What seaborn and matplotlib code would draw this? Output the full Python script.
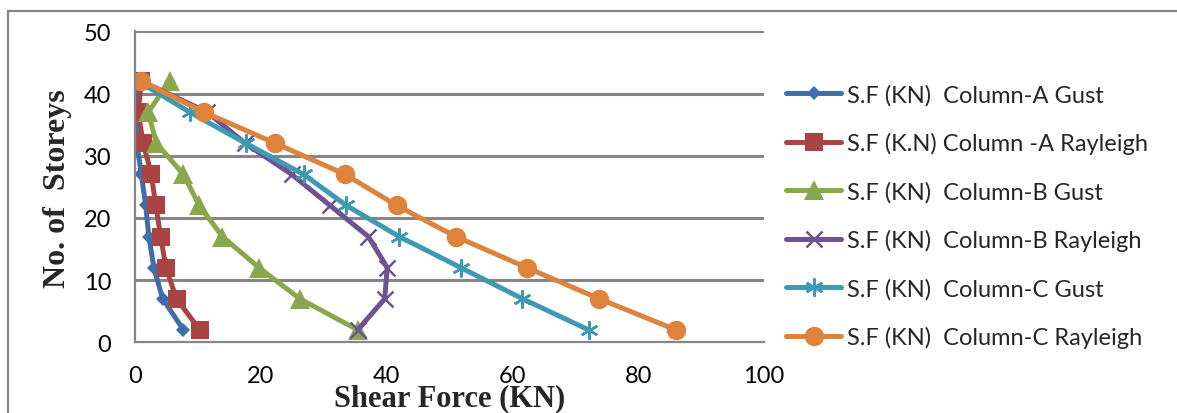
import matplotlib
matplotlib.use("Agg")
import matplotlib.pyplot as plt
from matplotlib.lines import Line2D
import seaborn as sns
import pandas as pd

storeys = [2, 7, 12, 17, 22, 27, 32, 37, 42]

col_a_gust = [7.7, 4.4, 3.0, 2.2, 1.7, 1.0, 0.3, 0.1, 0.5]
col_a_rayleigh = [10.3, 6.6, 4.9, 4.1, 3.3, 2.6, 1.3, 0.5, 1.0]
col_b_gust = [35.4, 26.2, 19.7, 13.9, 10.2, 7.7, 3.4, 2.1, 5.5]
col_b_rayleigh = [35.4, 39.7, 40.1, 37.1, 31.0, 24.9, 17.5, 11.5, 1.0]
col_c_gust = [72.1, 61.6, 51.8, 42.0, 33.6, 26.8, 17.6, 8.7, 0.5]
col_c_rayleigh = [86.0, 73.8, 62.3, 51.0, 41.6, 33.4, 22.3, 11.0, 1.0]

labels = [
    "S.F (KN)  Column-A Gust",
    "S.F (K.N) Column -A Rayleigh",
    "S.F (KN)  Column-B Gust",
    "S.F (KN)  Column-B Rayleigh",
    "S.F (KN)  Column-C Gust",
    "S.F (KN)  Column-C Rayleigh",
]
series = [col_a_gust, col_a_rayleigh, col_b_gust, col_b_rayleigh, col_c_gust, col_c_rayleigh]

x_ticks = [0, 20, 40, 60, 80, 100]
y_ticks = [0, 10, 20, 30, 40, 50]

colors = ["#3F6FAA", "#A94442", "#8AA84B", "#6E5292", "#3E9AB2", "#DE833B"]
markers = ["D", "s", "^", "x", (6, 2, 0), "o"]
msizes = [7, 13.5, 14, 11, 13, 14]
mews = [0, 0, 0, 1.8, 1.8, 0]

sns.set_style("white")
plt.rcParams["font.family"] = ["Lato", "DejaVu Sans"]

fig = plt.figure(figsize=(11.77, 4.14), dpi=100)
ax = fig.add_axes([135 / 1177, 1 - 343.3 / 414, (764 - 135) / 1177, (343.3 - 32.3) / 414])

gray = "#868686"

for vals, lab, c, m, ms, mew in zip(series, labels, colors, markers, msizes, mews):
    df = pd.DataFrame({"Shear": vals, "Storey": storeys})
    sns.lineplot(data=df, x="Shear", y="Storey", sort=False, ax=ax, color=c,
                 linewidth=3.6, marker=m, markersize=ms, markeredgewidth=mew,
                 markeredgecolor=c, markerfacecolor=c, label=lab)

ax.set_xlim(0, 100)
ax.set_ylim(0, 50)
ax.set_xticks(x_ticks)
ax.set_yticks(y_ticks)
ax.yaxis.grid(True, color=gray, linewidth=2.2)
ax.xaxis.grid(False)
ax.set_axisbelow(True)
for s in ["top", "right"]:
    ax.spines[s].set_visible(False)
for s in ["left", "bottom"]:
    ax.spines[s].set_color(gray)
    ax.spines[s].set_linewidth(1.6)
ax.tick_params(axis="both", which="both", length=5, width=1.6, color=gray,
               labelsize=17, labelcolor="black", direction="out")
ax.tick_params(axis="y", pad=12)
ax.tick_params(axis="x", pad=11)

ax.set_xlabel("Shear Force (KN)", fontsize=22, fontweight="bold",
              family=["Liberation Serif", "DejaVu Serif"])
ax.set_ylabel("No. of  Storeys", fontsize=23, fontweight="bold",
              family=["Liberation Serif", "DejaVu Serif"])
ax.xaxis.set_label_coords(0.5, (343.3 - 399) / 311)
ax.xaxis.label.set_va("center")
ax.yaxis.set_label_coords((58 - 135) / 629, 0.497)
ax.yaxis.label.set_va("center")

ax.get_legend().remove()
handles, labs = ax.get_legend_handles_labels()
fig.legend(handles, labs, loc="upper left",
           bbox_to_anchor=(786 / 1177, 1 - 85 / 414), frameon=False,
           fontsize=17, handlelength=2.35, handletextpad=0.25,
           labelspacing=1.13, borderpad=0, borderaxespad=0)

fig.add_artist(Line2D([8 / 1177, 8 / 1177], [0, 1 - 12 / 414], color=gray, linewidth=1.6))
fig.add_artist(Line2D([8 / 1177, 1], [1 - 12 / 414, 1 - 12 / 414], color=gray, linewidth=1.6))

fig.savefig("out.png", dpi=100)
